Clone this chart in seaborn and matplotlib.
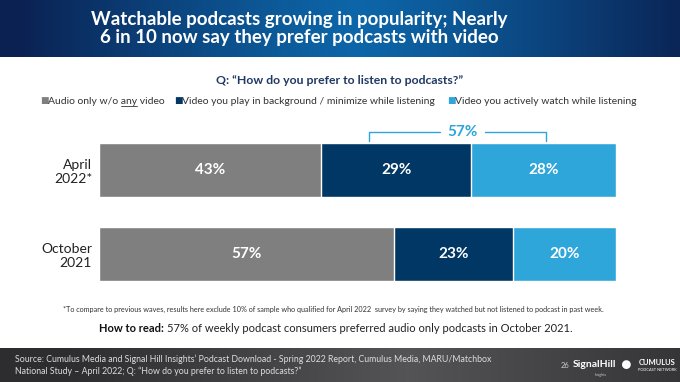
import numpy as np
import pandas as pd
import matplotlib
matplotlib.use("Agg")
import matplotlib.pyplot as plt
import seaborn as sns
from matplotlib.lines import Line2D

# chart data
waves = ["April\n2022*", "October\n2021"]
audio_only = [43, 57]
video_background = [29, 23]
video_watch = [28, 20]
series_names = ["Audio only w/o any video",
                "Video you play in background / minimize while listening",
                "Video you actively watch while listening"]
video_total_label = "57%"

colors = ["#7f7f7f", "#003764", "#2ea6da"]
navy = "#1f3864"

sns.set_theme(style="white")
plt.rcParams["font.family"] = ["Lato", "DejaVu Sans"]

df = pd.DataFrame({"wave": waves,
                   "a": audio_only,
                   "b": video_background,
                   "c": video_watch})
df["cum1"] = df["a"]
df["cum2"] = df["a"] + df["b"]
df["cum3"] = df["a"] + df["b"] + df["c"]

fig = plt.figure(figsize=(6.8, 3.82), dpi=100)

# header band with gradient
hdr = fig.add_axes([0, 1 - 57 / 382, 1, 57 / 382])
xg = np.linspace(-1, 1, 300)
grad = np.clip(1 - np.abs(xg - 0.05) ** 1.2, 0, 1)
c0 = np.array([0.04, 0.13, 0.32])
c1 = np.array([0.05, 0.40, 0.66])
img = c0[None, None, :] + (c1 - c0)[None, None, :] * grad[None, :, None]
img = np.repeat(img, 10, axis=0)
hdr.imshow(img, aspect="auto", extent=[0, 1, 0, 1])
hdr.set_axis_off()
hdr.text(0.44, 0.5, "Watchable podcasts growing in popularity; Nearly\n6 in 10 now say they prefer podcasts with video",
         color="white", fontsize=13.5, fontweight="bold", ha="center", va="center",
         linespacing=1.12, transform=hdr.transAxes)

# footer band
ftr = fig.add_axes([0, 0, 1, 34 / 382])
f0 = np.array([0.18, 0.18, 0.19])
f1 = np.array([0.33, 0.33, 0.34])
fgrad = np.clip(1 - np.abs(xg - 0.2), 0, 1)
fimg = f0[None, None, :] + (f1 - f0)[None, None, :] * fgrad[None, :, None]
fimg = np.repeat(fimg, 10, axis=0)
ftr.imshow(fimg, aspect="auto", extent=[0, 1, 0, 1])
ftr.set_axis_off()
ftr.text(0.022, 0.5, "Source: Cumulus Media and Signal Hill Insights\u2019 Podcast Download - Spring 2022 Report, Cumulus Media, MARU/Matchbox\n"
         "National Study \u2013 April 2022; Q: \u201cHow do you prefer to listen to podcasts?\u201d",
         color="#dddddd", fontsize=6.3, ha="left", va="center", linespacing=1.3,
         transform=ftr.transAxes)
ftr.text(0.831, 0.5, "26", color="#cccccc", fontsize=5.5, ha="center", va="center", transform=ftr.transAxes)
ftr.text(0.874, 0.52, "SignalHill", color="white", fontsize=7.5, fontweight="bold", ha="center", va="center",
         transform=ftr.transAxes)
ftr.text(0.874, 0.2, "Insights", color="#cccccc", fontsize=2.5, ha="left", va="center",
         transform=ftr.transAxes)
ftr.text(0.921, 0.5, "\u25cf", color="white", fontsize=13, ha="center", va="center", transform=ftr.transAxes)
ftr.text(0.966, 0.58, "CUMULUS", color="white", fontsize=5.5, fontweight="bold", ha="center", va="center",
         transform=ftr.transAxes)
ftr.text(0.966, 0.35, "PODCAST NETWORK", color="white", fontsize=2.8, ha="center", va="center",
         transform=ftr.transAxes)

# main bar chart
ax = fig.add_axes([99 / 680, 1 - 281 / 382, 517 / 680, 138 / 382])
w = 0.635
sns.barplot(data=df, y="wave", x="cum3", color=colors[2], orient="h", width=w,
            saturation=1, ax=ax)
sns.barplot(data=df, y="wave", x="cum2", color=colors[1], orient="h", width=w,
            saturation=1, ax=ax)
sns.barplot(data=df, y="wave", x="cum1", color=colors[0], orient="h", width=w,
            saturation=1, ax=ax)
ax.set_xlim(0, 100)
ax.set_ylim(1 + w / 2, -w / 2)
ax.set_xlabel("")
ax.set_ylabel("")
ax.set_xticks([])
ax.tick_params(axis="y", length=0, pad=5, labelsize=10, labelcolor="#222222")
sns.despine(ax=ax, left=True, bottom=True)

for i in range(len(waves)):
    starts = [0, df["cum1"][i], df["cum2"][i]]
    vals = [df["a"][i], df["b"][i], df["c"][i]]
    for s, v in zip(starts, vals):
        ax.text(s + v / 2, i, f"{v}%", color="white", fontsize=11, fontweight="bold",
                ha="center", va="center")

# bracket over the video share
by = -w / 2 - 0.13
tick = 0.11
ax.plot([52.2, 52.2, 66.0], [by + tick, by, by], color=colors[2], lw=1, clip_on=False)
ax.plot([74.7, 86.5, 86.5], [by, by, by + tick], color=colors[2], lw=1, clip_on=False)
ax.text(70.3, by, video_total_label, color=colors[2], fontsize=11, fontweight="bold",
        ha="center", va="center", clip_on=False)

# question and legend
fig.text(340 / 680, 1 - 80 / 382, "Q: \u201cHow do you prefer to listen to podcasts?\u201d",
         color=navy, fontsize=8.8, fontweight="bold", ha="center", va="center")
leg_x = [40, 174, 447]
leg_y = 1 - 101 / 382
leg_texts = []
for x, name, c in zip(leg_x, series_names, colors):
    fig.text(x / 680, leg_y, "\u25a0", color=c, fontsize=6.5, ha="left", va="center")
    leg_texts.append(fig.text((x + 8) / 680, leg_y, name, color="#333333", fontsize=7.5,
                              ha="left", va="center"))

# underline "any" in the first legend entry
renderer = fig.canvas.get_renderer()
probe = fig.text((leg_x[0] + 8) / 680, leg_y, "Audio only w/o ", fontsize=7.5, va="center")
x0 = probe.get_window_extent(renderer).x1
probe.set_text("Audio only w/o any")
x1 = probe.get_window_extent(renderer).x1
probe.remove()
fig.add_artist(Line2D([x0 / 680, x1 / 680], [leg_y - 5 / 382] * 2, color="#333333", lw=0.6))

# footnote and how-to-read
fig.text(333 / 680, 1 - 309 / 382,
         "*To compare to previous waves, results here exclude 10% of sample who qualified for April 2022  survey by saying they watched but not listened to podcast in past week.",
         color="#333333", fontsize=5.2, ha="center", va="center")
fig.text(164 / 680, 1 - 328 / 382, "How to read:", color="#111111", fontsize=8, fontweight="bold",
         ha="right", va="center")
fig.text(167 / 680, 1 - 328 / 382,
         "57% of weekly podcast consumers preferred audio only podcasts in October 2021.",
         color="#222222", fontsize=8, ha="left", va="center")

fig.savefig("out.png", dpi=100)
